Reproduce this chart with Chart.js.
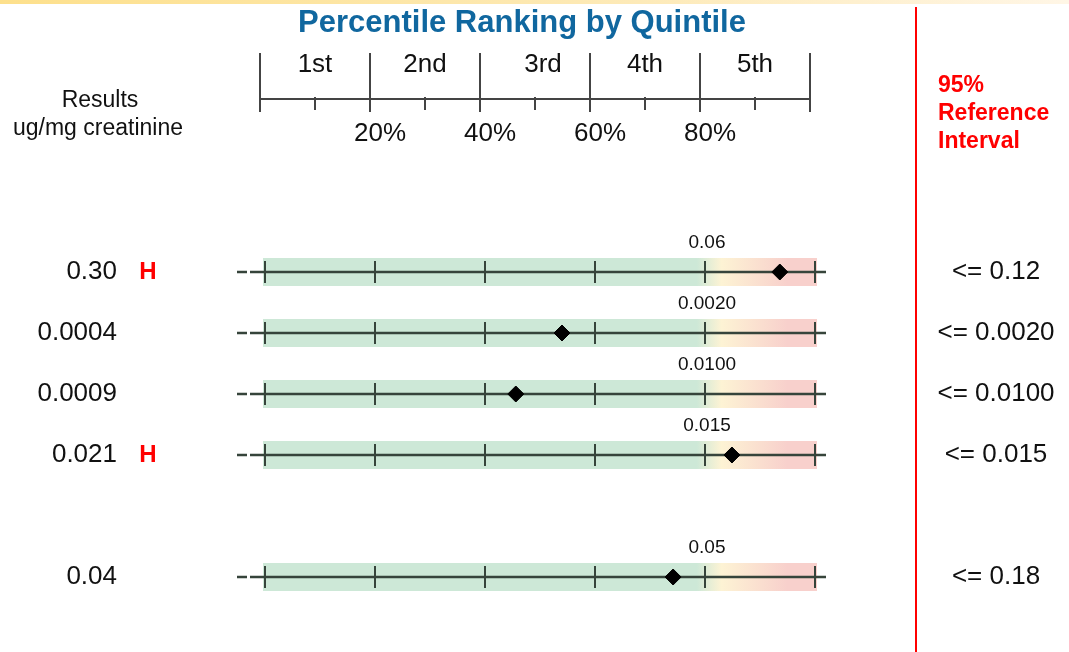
<!DOCTYPE html>
<html>
<head>
<meta charset="utf-8">
<script src="https://cdn.jsdelivr.net/npm/chart.js@4.4.1/dist/chart.umd.min.js"></script>
<style>
  html, body { margin: 0; padding: 0; background: #fff; overflow: hidden; }
  canvas { display: block; }
</style>
</head>
<body>
<canvas id="quintileChart" width="1069" height="652"></canvas>
<script>
// values
const results = ["0.30", "0.0004", "0.0009", "0.021", "0.04"];
const flags = ["H", "", "", "H", ""];
const percentiles = [93.6, 54, 45.6, 84.9, 74.2];
const refLimits = ["0.06", "0.0020", "0.0100", "0.015", "0.05"];
const refIntervals = ["<= 0.12", "<= 0.0020", "<= 0.0100", "<= 0.015", "<= 0.18"];
const rowSlots = [0, 1, 2, 3, 5];
const quintiles = ["1st", "2nd", "3rd", "4th", "5th"];
const percentTicks = [20, 40, 60, 80];
const scaleTicks = [0, 20, 40, 60, 80, 100];

const FONT = '"Liberation Sans", Arial, sans-serif';

function text(ctx, str, x, y, font, color, align) {
  ctx.font = font;
  ctx.fillStyle = color;
  ctx.textAlign = align || "center";
  ctx.textBaseline = "middle";
  ctx.fillText(str, x, y);
}

const panelPlugin = {
  id: "panel",
  beforeDatasetsDraw(chart) {
    const { ctx, scales: { x, y } } = chart;
    const x0 = x.getPixelForValue(0);
    const x100 = x.getPixelForValue(100);
    ctx.save();
    rowSlots.forEach((slot) => {
      const cy = y.getPixelForValue(slot);
      const grad = ctx.createLinearGradient(x0, 0, x100, 0);
      grad.addColorStop(0, "#cde8d7");
      grad.addColorStop(0.785, "#cde8d7");
      grad.addColorStop(0.83, "#fdf3d4");
      grad.addColorStop(0.95, "#f8d0cc");
      grad.addColorStop(1, "#f8d0cc");
      ctx.fillStyle = grad;
      ctx.fillRect(x0 - 2, cy - 14, x100 - x0 + 4, 28);

      ctx.strokeStyle = "#36443b";
      ctx.lineWidth = 2.6;
      ctx.beginPath();
      ctx.moveTo(x0 - 28, cy);
      ctx.lineTo(x0 - 18, cy);
      ctx.moveTo(x0 - 15, cy);
      ctx.lineTo(x100 + 11, cy);
      ctx.stroke();
    });
    ctx.restore();
  },
  afterDraw(chart) {
    const { ctx, scales: { x, y } } = chart;
    ctx.save();

    // top strip
    const strip = ctx.createLinearGradient(0, 0, chart.width, 0);
    strip.addColorStop(0, "#fde08c");
    strip.addColorStop(0.6, "#fdeab8");
    strip.addColorStop(1, "#fff6e6");
    ctx.fillStyle = strip;
    ctx.fillRect(0, 0, chart.width, 4);

    // title
    text(ctx, "Percentile Ranking by Quintile", 522, 23, "bold 31px " + FONT, "#10679f");

    // header ruler
    const hx = (p) => x.getPixelForValue(p) - 5;
    ctx.strokeStyle = "#444";
    ctx.lineWidth = 2;
    ctx.beginPath();
    ctx.moveTo(hx(0), 99);
    ctx.lineTo(hx(100), 99);
    scaleTicks.forEach((p) => {
      ctx.moveTo(hx(p), 53);
      ctx.lineTo(hx(p), 112);
    });
    for (let p = 10; p < 100; p += 20) {
      ctx.moveTo(hx(p), 97);
      ctx.lineTo(hx(p), 110);
    }
    ctx.stroke();
    quintiles.forEach((q, i) => {
      text(ctx, q, hx(i * 20 + 10) + (i === 2 ? 8 : 0), 65, "26px " + FONT, "#111");
    });
    percentTicks.forEach((p) => {
      text(ctx, p + "%", hx(p) + 10, 134, "26px " + FONT, "#111");
    });

    // left header
    text(ctx, "Results", 100, 101, "23px " + FONT, "#111");
    text(ctx, "ug/mg creatinine", 98, 129, "23px " + FONT, "#111");

    // right header
    ctx.strokeStyle = "#ff0000";
    ctx.lineWidth = 2;
    ctx.beginPath();
    ctx.moveTo(916, 7);
    ctx.lineTo(916, chart.height);
    ctx.stroke();
    ["95%", "Reference", "Interval"].forEach((t, i) => {
      text(ctx, t, 938, 86 + i * 28, "bold 23px " + FONT, "#ff0000", "left");
    });

    // rows
    rowSlots.forEach((slot, i) => {
      const cy = y.getPixelForValue(slot);
      text(ctx, results[i], 117, cy, "26px " + FONT, "#111", "right");
      if (flags[i]) text(ctx, flags[i], 148, cy, "bold 24px " + FONT, "#ff0000");
      text(ctx, refLimits[i], x.getPixelForValue(80) + 2, cy - 29, "19px " + FONT, "#111");
      text(ctx, refIntervals[i], 996, cy, "26px " + FONT, "#111");
    });
    ctx.restore();
  }
};

// pixel mapping: 0% at 265px, 100% at 815px; rows 61px apart starting at 272px
const W = 1069, H = 652;
const xMin = -265 / 5.5, xMax = (W - 265) / 5.5;
const yMin = -272 / 61, yMax = (H - 272) / 61;

const tickPoints = [];
rowSlots.forEach((slot) => scaleTicks.forEach((p) => tickPoints.push({ x: p, y: slot })));

new Chart(document.getElementById("quintileChart"), {
  type: "scatter",
  data: {
    datasets: [
      {
        label: "Result",
        data: percentiles.map((p, i) => ({ x: p, y: rowSlots[i] })),
        pointStyle: "rectRot",
        pointRadius: 8,
        backgroundColor: "#000",
        borderColor: "#000",
        borderWidth: 1,
        order: 0
      },
      {
        label: "Ticks",
        data: tickPoints,
        pointStyle: "line",
        rotation: 90,
        pointRadius: 11,
        borderColor: "#36443b",
        borderWidth: 2,
        order: 1
      }
    ]
  },
  options: {
    responsive: false,
    animation: false,
    devicePixelRatio: 1,
    layout: { padding: 0, autoPadding: false },
    plugins: { legend: { display: false }, tooltip: { enabled: false }, title: { display: false } },
    scales: {
      x: { type: "linear", display: false, min: xMin, max: xMax },
      y: { type: "linear", display: false, reverse: true, min: yMin, max: yMax }
    }
  },
  plugins: [panelPlugin]
});
</script>
</body>
</html>
